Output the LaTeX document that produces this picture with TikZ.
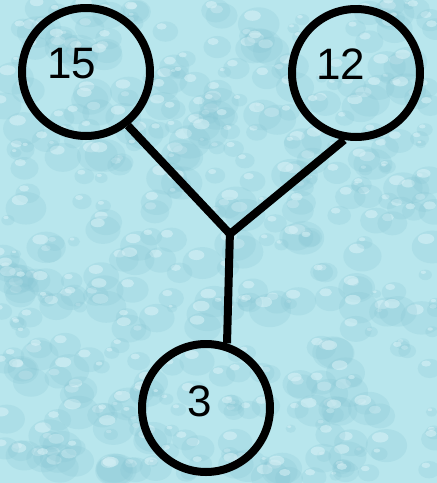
\documentclass[tikz,border=0pt]{standalone}
\usepackage{fontspec}
\setmainfont{Liberation Sans}
\begin{document}
\begin{tikzpicture}[x=1pt,y=-1pt,
  ring/.style={circle,draw=black,line width=8pt,inner sep=0pt,minimum size=128pt},
  num/.style={inner sep=0pt,font=\fontsize{44}{44}\selectfont},
  link/.style={draw=black,line width=8pt,line join=miter,line cap=butt}]
\definecolor{bgwater}{RGB}{184,230,237}
\definecolor{dropdark}{RGB}{132,196,210}
\definecolor{droplight}{RGB}{228,248,251}
\useasboundingbox (0,0) rectangle (437,483);
\fill[bgwater] (0,0) rectangle (437,483);
% droplet texture
\pgfmathsetseed{12}
\begin{scope}
\clip (0,0) rectangle (437,483);
\foreach \i in {1,...,420}{
  \pgfmathsetmacro{\dx}{rnd*437}
  \pgfmathsetmacro{\dy}{rnd*483}
  \pgfmathsetmacro{\dr}{5+rnd*16}
  \fill[dropdark,opacity=0.22] (\dx,\dy+0.15*\dr) ellipse [x radius=\dr, y radius=0.8*\dr];
  \fill[droplight,opacity=0.45] (\dx-0.3*\dr,\dy-0.25*\dr) ellipse [x radius=0.4*\dr, y radius=0.25*\dr];
}
\end{scope}
% nodes
\node[ring] (c15) at (86,72) {};
\node[ring] (c12) at (356,73) {};
\node[ring] (c3) at (206,408) {};
\node[num] (t15) at (72,64) {15};
\node[num] (t12) at (341,64) {12};
\node[num] (t3) at (200,401) {3};
\coordinate (J) at (230,234);
% connectors
\draw[link] (c15.-52) -- (J) -- (c12.-100);
\draw[link] ([yshift=4pt]J) -- (c3.72);
\end{tikzpicture}
\end{document}
